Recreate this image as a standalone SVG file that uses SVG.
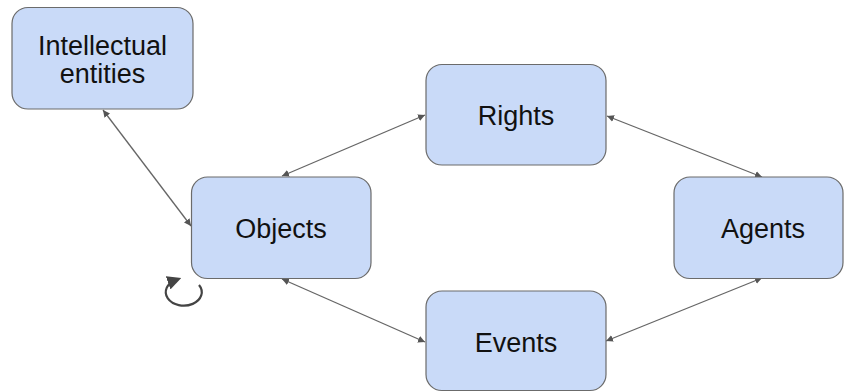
<svg xmlns="http://www.w3.org/2000/svg" width="844" height="392" viewBox="0 0 844 392">
  <style>
    .box { fill: #c9daf8; stroke: #6b6b6b; stroke-width: 1.2; }
    .lbl { font-family: "Liberation Sans", Arial, sans-serif; font-size: 27px; fill: #111; text-anchor: middle; }
    .link { stroke: #666; stroke-width: 1.3; fill: none; marker-start: url(#arr); marker-end: url(#arr); }
    .loop { stroke: #444; stroke-width: 2.2; fill: none; marker-end: url(#arrLoop); }
  </style>
  <defs>
    <marker id="arr" viewBox="0 0 10 10" refX="10" refY="5" markerWidth="7" markerHeight="7" markerUnits="userSpaceOnUse" orient="auto-start-reverse">
      <path d="M0,0 L10,5 L0,10 z" fill="#555"/>
    </marker>
    <marker id="arrLoop" viewBox="0 0 10 10" refX="6" refY="5" markerWidth="14" markerHeight="14" markerUnits="userSpaceOnUse" orient="auto">
      <path d="M0,0 L10,5 L0,10 z" fill="#444"/>
    </marker>
  </defs>

  <g id="connectors">
    <line class="link" x1="103" y1="110" x2="191" y2="226"/>
    <line class="link" x1="282" y1="176" x2="425" y2="115"/>
    <line class="link" x1="607" y1="116" x2="762" y2="177"/>
    <line class="link" x1="282" y1="279" x2="425" y2="342"/>
    <line class="link" x1="606" y1="341" x2="762" y2="278"/>
    <path class="loop" d="M 199 285 A 18 13.5 0 1 1 176 280"/>
  </g>

  <g id="intellectual-entities">
    <rect class="box" x="12" y="7.5" width="181" height="101.5" rx="16"/>
    <text class="lbl" x="102.5" y="55">Intellectual</text>
    <text class="lbl" x="102.5" y="83">entities</text>
  </g>

  <g id="objects">
    <rect class="box" x="191.5" y="177" width="179.5" height="101.5" rx="16"/>
    <text class="lbl" x="281" y="238">Objects</text>
  </g>

  <g id="rights">
    <rect class="box" x="426" y="64.5" width="180" height="100.5" rx="16"/>
    <text class="lbl" x="516" y="125">Rights</text>
  </g>

  <g id="agents">
    <rect class="box" x="674" y="177" width="169" height="101.5" rx="16"/>
    <text class="lbl" x="763" y="238">Agents</text>
  </g>

  <g id="events">
    <rect class="box" x="426" y="291" width="180" height="99.5" rx="16"/>
    <text class="lbl" x="516" y="352">Events</text>
  </g>
</svg>
